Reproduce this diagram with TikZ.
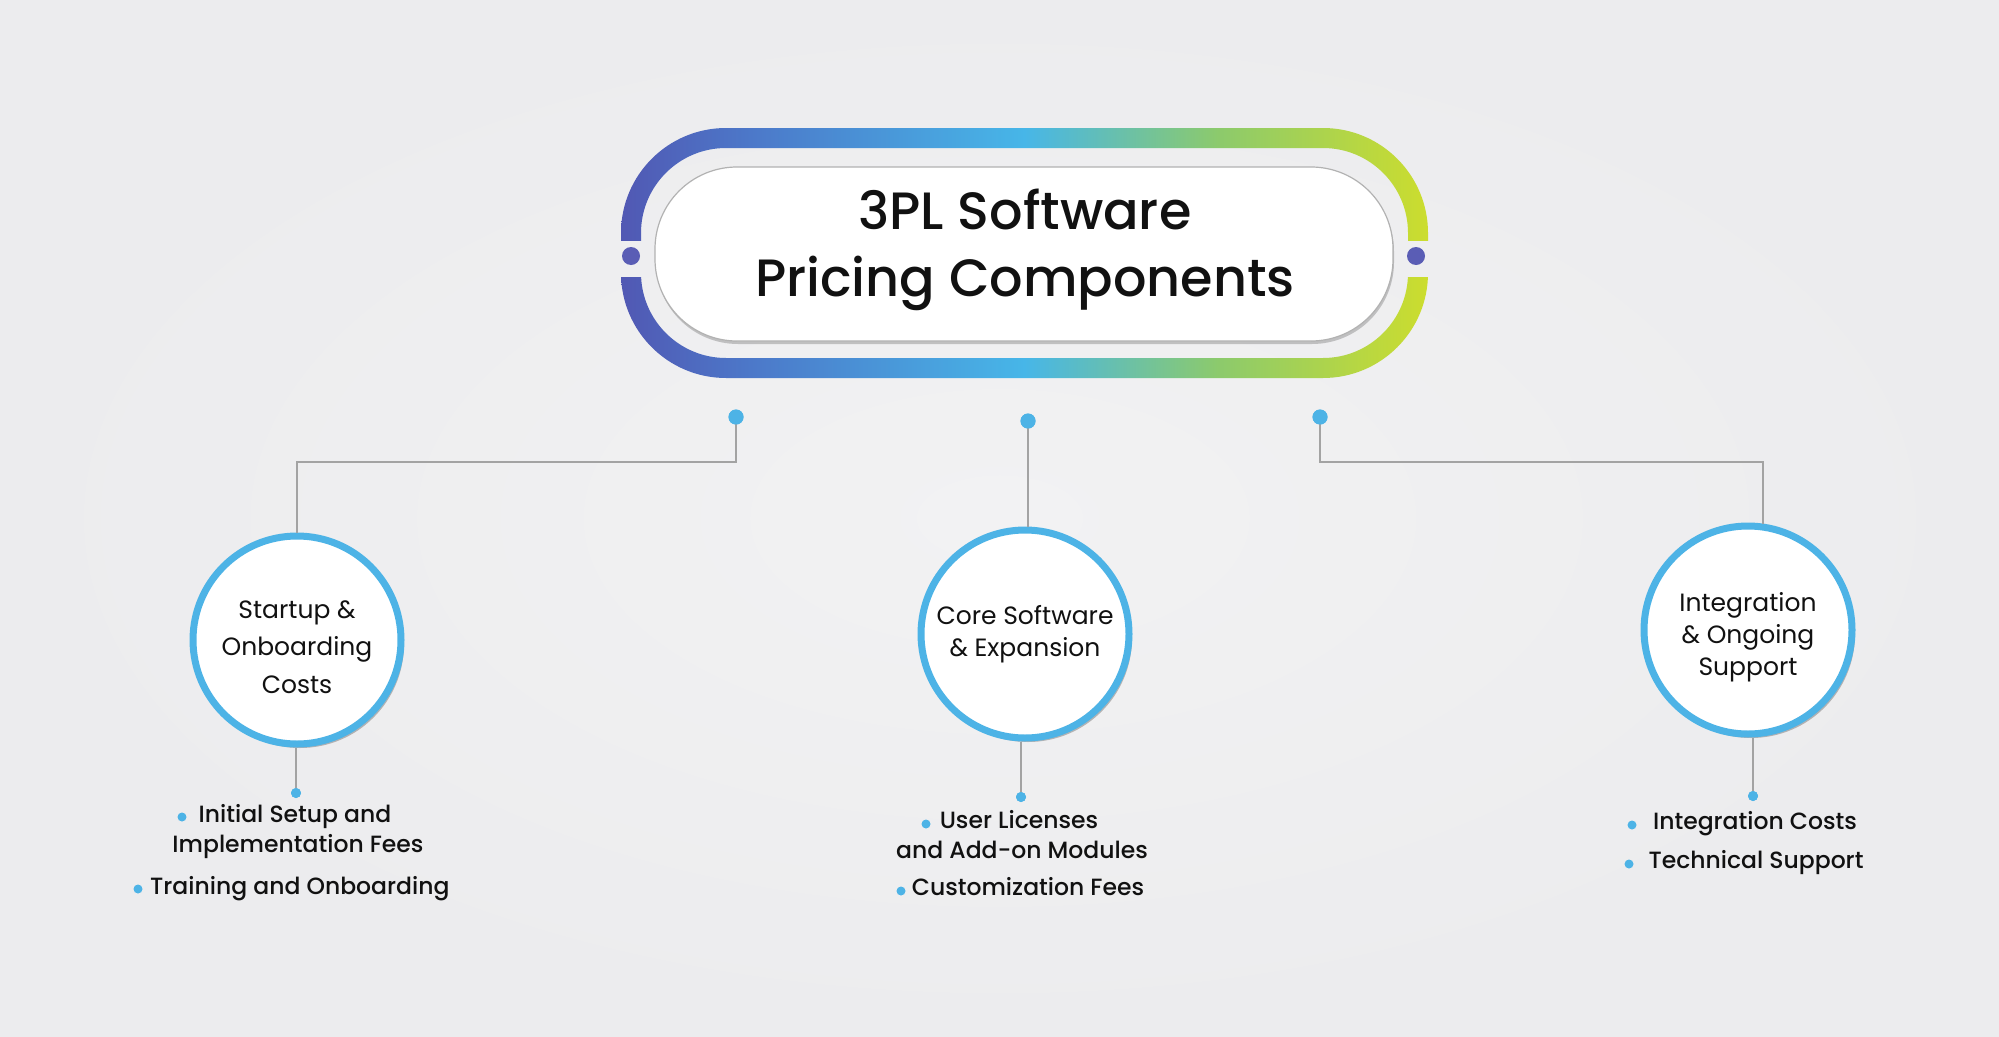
\documentclass[tikz,border=0pt]{standalone}
\usepackage{fontspec}
\setmainfont{Poppins}
\newfontfamily\medfont{Poppins Medium}
\usetikzlibrary{shadows,calc}
\definecolor{bgc}{HTML}{ECECEE}
\definecolor{bgi}{HTML}{F2F2F3}
\definecolor{ringA}{HTML}{5158B3}
\definecolor{ringA2}{HTML}{4C78C9}
\definecolor{ringB}{HTML}{47B6E8}
\definecolor{ringC}{HTML}{8CCA6C}
\definecolor{ringD}{HTML}{CCDD2E}
\definecolor{cblue}{HTML}{4DB3E6}
\definecolor{lgray}{HTML}{A3A3A3}
\definecolor{dotp}{HTML}{5A5DB5}
\definecolor{txt}{HTML}{111111}
\pgfdeclarehorizontalshading{ringshade}{100bp}{color(0bp)=(ringA); color(25bp)=(ringA); color(33bp)=(ringA2); color(50bp)=(ringB); color(62bp)=(ringC); color(75bp)=(ringD); color(100bp)=(ringD)}
\tikzset{
  topdot/.style={circle, fill=cblue, inner sep=0pt, minimum size=15pt},
  botdot/.style={circle, fill=cblue, inner sep=0pt, minimum size=10pt},
  bdot/.style={circle, fill=cblue, inner sep=0pt, minimum size=9pt},
  sidedot/.style={circle, fill=dotp, inner sep=0pt, minimum size=18pt},
  conn/.style={draw=lgray, line width=2pt},
  bubble/.style={circle, draw=cblue, line width=7pt, fill=white, minimum size=208pt, inner sep=0pt,
    drop shadow={shadow xshift=3pt, shadow yshift=-4pt, opacity=0.25, fill=black}},
  btext/.style={align=center, inner sep=0pt, text=txt},
  item/.style={inner sep=0pt, font=\medfont\fontsize{23.5}{30}\selectfont, text=txt, text height=17pt, text depth=5pt}
}
\begin{document}
\begin{tikzpicture}[x=1pt, y=-1pt]
\useasboundingbox (0,0) rectangle (1999,1036);
\shade[inner color=bgi, outer color=bgc] (0,0) rectangle (1999,1036);

% gradient ring with side gaps
\begin{scope}
  \clip (0,0) rectangle (1999,240);
  \shade[shading=ringshade, even odd rule] [rounded corners=105pt] (621,128) rectangle (1428,378) [rounded corners=85pt] (641,148) rectangle (1408,358);
\end{scope}
\begin{scope}
  \clip (0,277) rectangle (1999,1036);
  \shade[shading=ringshade, even odd rule] [rounded corners=105pt] (621,128) rectangle (1428,378) [rounded corners=85pt] (641,148) rectangle (1408,358);
\end{scope}
\node[sidedot] (sl) at (631,256) {};
\node[sidedot] (sr) at (1416,256) {};

% title pill
\node[draw=black!30, line width=1.2pt, fill=white, rounded corners=82pt, minimum width=738pt, minimum height=174pt,
  drop shadow={shadow xshift=1pt, shadow yshift=-3pt, opacity=0.2, fill=black}] (pill) at (1024,254) {};
\node[align=center, font=\medfont\fontsize{52.5}{67}\selectfont, text=txt] (title) at (1025,250) {3PL Software\\Pricing Components};

% top dots
\node[topdot] (d1) at (736,417) {};
\node[topdot] (d2) at (1028,421) {};
\node[topdot] (d3) at (1320,417) {};

% circles
\node[bubble] (c1) at (297,640) {};
\node[bubble] (c2) at (1025,634) {};
\node[bubble] (c3) at (1748,630) {};
\node[btext, font=\fontsize{25}{37.5}\selectfont] (c1t) at (297,647) {Startup \&\\Onboarding\\Costs};
\node[btext, font=\fontsize{25}{32}\selectfont] (c2t) at (1025,634) {Core Software\\\& Expansion};
\node[btext, font=\fontsize{25}{32}\selectfont] (c3t) at (1748,637) {Integration\\\& Ongoing\\Support};

% connectors
\draw[conn] (d1.center) -- ++(0,45) -| (c1.north);
\draw[conn] (d2.center) -- (d2 |- c2.north);
\draw[conn] (d3.center) -- ++(0,45) -| (c3.82);
\node[topdot] at (d1) {};
\node[topdot] at (d2) {};
\node[topdot] at (d3) {};

% bottom stems
\node[botdot] (b1) at (296,793) {};
\node[botdot] (b2) at (1021,797) {};
\node[botdot] (b3) at (1753,796) {};
\draw[conn] (b1.center) -- (b1 |- c1.south);
\draw[conn] (b2.center) -- (b2 |- c2.south);
\draw[conn] (b3.center) -- (b3 |- c3.south);
\node[botdot] at (b1) {};
\node[botdot] at (b2) {};
\node[botdot] at (b3) {};

% left items
\node[item] (l1) at (295,816) {Initial Setup and};
\node[item] (l2) at (298,846) {Implementation Fees};
\node[item, anchor=west] (l3) at (150,888) {Training and Onboarding};
\node[bdot] (lb1) at (182,817) {};
\node[bdot] (lb3) at (138,889) {};

% middle items
\node[item] (m1) at (1019,822) {User Licenses};
\node[item] (m2) at (1022,852) {and Add-on Modules};
\node[item] (m3) at (1028,889) {Customization Fees};
\node[bdot] (mb1) at (926,824) {};
\node[bdot] (mb3) at (901,891) {};

% right items
\node[item] (r1) at (1755,823) {Integration Costs};
\node[item] (r2) at (1756,862) {Technical Support};
\node[bdot] (rb1) at (1632,825) {};
\node[bdot] (rb2) at (1629,864) {};
\end{tikzpicture}
\end{document}
